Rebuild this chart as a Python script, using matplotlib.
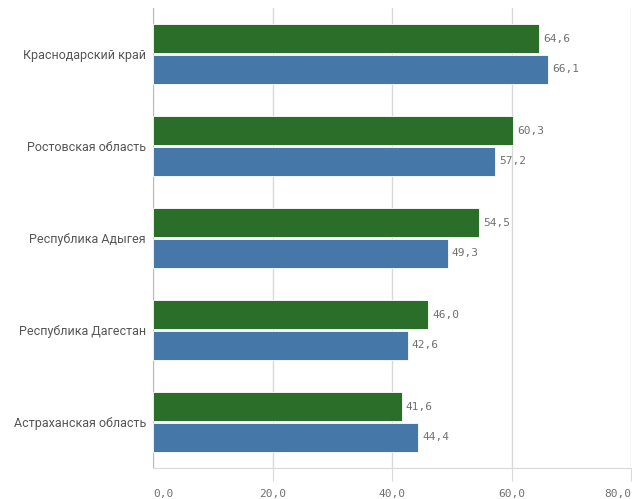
import matplotlib.pyplot as plt
import numpy as np

regions = ["Краснодарский край", "Ростовская область", "Республика Адыгея",
           "Республика Дагестан", "Астраханская область"]
green_vals = [64.6, 60.3, 54.5, 46.0, 41.6]
blue_vals = [66.1, 57.2, 49.3, 42.6, 44.4]
x_ticks = [0, 20, 40, 60, 80]

green = '#2a6e29'
blue = '#4577a9'
grid_col = '#d9d9d9'
text_col = '#707070'

fig = plt.figure(figsize=(6.32, 4.99), dpi=100)
ax = fig.add_axes([153 / 632, 1 - 468 / 499, (631 - 153) / 632, 460 / 499])

y = np.arange(len(regions))
h = 0.315
off = 0.168
ax.barh(y - off, green_vals, height=h, color=green, edgecolor='white', linewidth=0.6, zorder=3)
ax.barh(y + off, blue_vals, height=h, color=blue, edgecolor='white', linewidth=0.6, zorder=3)

def fmt(v):
    return f"{v:.1f}".replace('.', ',')

# подписи значений у концов столбцов
for i, (g, b) in enumerate(zip(green_vals, blue_vals)):
    ax.annotate(fmt(g), (g, i - off), xytext=(3, 0), textcoords='offset points',
                va='center', ha='left', fontsize=8, color=text_col, family='DejaVu Sans Mono')
    ax.annotate(fmt(b), (b, i + off), xytext=(3, 0), textcoords='offset points',
                va='center', ha='left', fontsize=8, color=text_col, family='DejaVu Sans Mono')

ax.set_xlim(0, 80)
ax.set_ylim(len(regions) - 0.5, -0.5)
ax.set_xticks(x_ticks)
ax.set_xticklabels([fmt(t) for t in x_ticks], family='DejaVu Sans Mono', fontsize=8, color=text_col)
labels = ax.get_xticklabels()
labels[0].set_ha('left')
labels[-1].set_ha('right')
ax.xaxis.get_major_ticks()[0].tick1line.set_visible(False)
ax.set_yticks(y)
ax.set_yticklabels(regions, family='Roboto', fontsize=9, color='#555555')

ax.grid(axis='x', color=grid_col, linewidth=1, zorder=0)
ax.tick_params(axis='x', length=9, color=grid_col, pad=6)
ax.tick_params(axis='y', length=0, pad=5)
for s in ['top', 'right']:
    ax.spines[s].set_visible(False)
ax.spines['left'].set_color('#bbbbbb')
ax.spines['bottom'].set_color(grid_col)

plt.savefig('out.png', dpi=100)
